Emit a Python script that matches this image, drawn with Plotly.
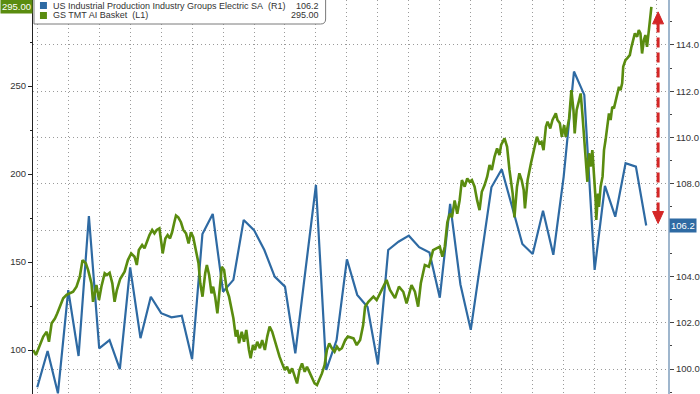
import plotly.graph_objects as go

# ---------------- data ----------------
# US Industrial Production Industry Groups Electric SA (R1), monthly, month index 0 = Jul 2019
blue_months = list(range(60))
blue_values = [99.21, 100.78, 98.95, 103.41, 100.56, 106.61, 100.89, 101.25, 99.99, 104.39,
               101.33, 103.12, 102.41, 102.23, 102.30, 100.42, 105.83, 106.70, 103.34, 103.85,
               106.44, 106.0, 105.14, 103.99, 103.56, 100.68, 104.32, 107.95, 99.96, 101.25,
               104.74, 103.20, 102.68, 100.20, 105.14, 105.50, 105.76, 105.26, 105.03, 103.08,
               107.13, 103.65, 101.69, 104.78, 107.85, 108.63, 107.02, 105.40, 104.97, 106.84,
               104.93, 108.3, 112.85, 111.84, 104.28, 107.91, 106.58, 108.89, 108.74, 106.2]

# GS TMT AI Basket (L1), time in months since Jul 2019
green_months = [-0.39, -0.13, 0.19, 0.58, 0.91, 1.13, 1.39, 1.71, 1.93, 2.19,
                2.51, 2.84, 3.15, 3.47, 3.80, 4.12, 4.38, 4.70, 4.92, 5.25,
                5.40, 5.73, 5.98, 6.21, 6.53, 6.75, 7.01, 7.27, 7.49, 7.71,
                8.04, 8.46, 8.78, 9.10, 9.42, 9.64, 9.84, 10.16, 10.39, 10.61,
                10.87, 11.13, 11.35, 11.57, 11.83, 12.05, 12.15, 12.41, 12.63, 12.86,
                13.06, 13.28, 13.44, 13.66, 13.92, 14.15, 14.41, 14.66, 14.89, 15.11,
                15.37, 15.62, 15.79, 16.01, 16.27, 16.43, 16.65, 16.88, 17.04, 17.23,
                17.45, 17.62, 17.88, 18.10, 18.36, 18.58, 18.84, 19.00, 19.23, 19.38,
                19.55, 19.81, 20.03, 20.25, 20.51, 20.67, 20.90, 21.09, 21.31, 21.57,
                21.79, 22.05, 22.28, 22.51, 22.76, 23.02, 23.24, 23.47, 23.72, 23.98,
                24.20, 24.44, 24.69, 24.95, 25.17, 25.40, 25.65, 25.91, 26.13, 26.36,
                26.61, 26.87, 27.10, 27.33, 27.58, 27.84, 28.06, 28.29, 28.54, 28.80,
                29.03, 29.26, 29.51, 29.84, 30.09,
                30.64, 30.95, 31.28, 31.57, 31.76, 32.08, 32.57, 32.88, 33.21, 33.53,
                33.84, 34.17, 34.66, 35.04, 35.46, 35.78, 36.26, 36.59, 36.90, 37.16,
                37.55, 37.94, 38.35, 38.67, 39.00, 39.25, 39.48, 39.73, 39.96, 40.18,
                40.44, 40.69, 40.92, 41.14, 41.41, 41.66, 41.89, 42.11, 42.37, 42.62,
                42.85, 43.07, 43.34, 43.59, 43.82, 44.04, 44.30, 44.55,
                44.78, 44.94, 45.27, 45.52, 45.75, 46.06, 46.23, 46.48, 46.71, 46.93,
                47.13, 47.25, 47.51, 47.83, 48.09, 48.41, 48.64, 48.86, 49.05, 49.28,
                49.44, 49.70, 49.92, 50.24, 50.40, 50.63, 50.82, 51.05, 51.20, 51.37,
                51.53, 51.75, 51.95, 52.07, 52.26, 52.50, 52.65, 52.81, 52.98, 53.13,
                53.30, 53.46, 53.61, 53.78, 53.94, 54.10, 54.16, 54.33, 54.42, 54.58,
                54.77, 54.91, 55.06, 55.23, 55.39, 55.55, 55.71, 55.87, 56.03, 56.19,
                56.36, 56.51, 56.67, 56.77, 56.99, 57.15, 57.41, 57.57, 57.73, 57.90,
                58.12, 58.28, 58.44, 58.60, 58.77, 58.92, 59.08, 59.25, 59.40, 59.50]
green_values = [100, 97.2, 101.9, 107.6, 110.4, 104.7, 115.2, 117.9, 120.8, 124.6,
                129.4, 131.3, 132.2, 133.1, 136, 141.7, 151.1, 149.3, 145.5, 137.9,
                127.4, 136.9, 128.4, 136, 143.6, 142.6, 143.9, 137.9, 127.4, 134.1,
                140.5, 144.5, 151.1, 154.9, 153, 148.3, 156.8, 159.7, 157.8, 161.5,
                165.3, 168.2, 166.3, 168.2, 169.1, 159.7, 154.9, 163.4, 165.3, 163.4,
                166.9, 172.6, 176.4, 175.4, 172.6, 168.2, 166.3, 160.6, 166.9, 164.1,
                156.8, 149.3, 137.9, 130.3, 143.6, 148.3, 142.6, 132.2, 136, 130.3,
                120.8, 132.2, 147.3, 145.5, 134.1, 130.3, 122.7, 118, 107.6, 111.4,
                103.8, 110.4, 104.7, 111.4, 100, 95.3, 102.8, 100, 104.7, 101,
                105.7, 100, 107.6, 113.3, 110.4, 104.7, 100, 96.2, 92.4, 88.6,
                90.5, 86.7, 89.6, 84.8, 81, 88.6, 92.4, 87.6, 90.5, 87.6,
                83.8, 81, 80.1, 82.9, 86.7, 91.5, 100, 103.8, 101, 99,
                101.9, 100, 101, 105.7, 107.6,
                106.6, 102.8, 105.7, 114, 124.6, 127.4, 130.3, 128.4, 132.2, 136,
                139.8, 134.1, 129.5, 136, 133.1, 126.5, 136.9, 133.1, 124.6, 137.9,
                148.3, 147.3, 156.8, 157.8, 158.7, 153, 158.7, 172.6, 177.4, 175.4,
                185, 177.4, 185, 196.6, 192.8, 197.5, 195.6, 196.6, 192.8, 185,
                179.5, 189.9, 193.7, 198.5, 205.1, 202.3, 209.8, 214.6,
                210.8, 216.5, 220.3, 215.5, 202.3, 188.9, 175.4, 192.8, 200.4, 196.6,
                190.9, 180.5, 196.6, 206.1, 213.6, 221.2, 217.4, 218.3, 213.6, 226.9,
                229.8, 225.9, 230.7, 234.5, 230.7, 228.8, 221.2, 227.8, 221.2, 226.9,
                231.6, 247.7, 236.4, 223.1, 236.4, 242, 245.8, 234.5, 219.3, 209.8,
                195.6, 211.8, 204.2, 213.6, 200.4, 185.2, 173.9, 188.9, 181.4, 192.8,
                198.5, 213.6, 219.3, 226.9, 234.5, 230.7, 238.2, 237.3, 241.1, 245.8,
                249.6, 247.7, 251.5, 261, 264.8, 265.7, 267.6, 272.3, 276.1, 279.9,
                278, 281.8, 279.9, 268.5, 276.1, 279, 272.3, 279.9, 289.4, 295]

blue_name = "US Industrial Production Industry Groups Electric SA"
green_name = "GS TMT AI Basket"
right_ticks = [100, 102, 104, 106, 108, 110, 112, 114, 116]
left_ticks = [100, 150, 200, 250]
assert len(green_months) == len(green_values)

# ---------------- layout constants ----------------
W, H = 700, 394
ML, MR = 33, 29
PW = W - ML - MR
X_RANGE = [-0.415, 61.11]
L_RANGE = [75.0, 298.9]
R_RANGE = [98.92, 115.94]

BLUE = "#2e6aa3"
GREEN = "#5a8c0f"
RED = "#d42626"
FONT = "Liberation Sans, Arial, sans-serif"
TXT = "#333333"


def fx(px):
    return (px - ML) / PW


def fy(py):
    return 1 - py / H


def left_to_paper(v):
    return (v - L_RANGE[0]) / (L_RANGE[1] - L_RANGE[0])


def right_to_paper(v):
    return (v - R_RANGE[0]) / (R_RANGE[1] - R_RANGE[0])


# the right-axis label hidden behind the last-value badge is left blank
right_text = ["" if abs(t - blue_values[-1]) < 0.5 else f"{t:.1f}" for t in right_ticks]

fig = go.Figure()
fig.add_trace(go.Scatter(x=blue_months, y=blue_values, yaxis="y", mode="lines",
                         line=dict(color=BLUE, width=2.2), name=blue_name))
fig.add_trace(go.Scatter(x=green_months, y=green_values, yaxis="y2", mode="lines",
                         line=dict(color=GREEN, width=2.6), name=green_name))

GRID = dict(showgrid=True, gridcolor="#9a9a9a", gridwidth=1, griddash="1px,3px")

fig.update_layout(
    width=W, height=H, autosize=False,
    margin=dict(l=ML, r=MR, t=0, b=0, pad=0),
    paper_bgcolor="white", plot_bgcolor="white",
    showlegend=False,
    font=dict(family=FONT, size=9.5, color=TXT),
    xaxis=dict(range=X_RANGE, tick0=0, dtick=3, showticklabels=False, ticks="",
               zeroline=False, showline=False, **GRID),
    yaxis=dict(side="right", range=R_RANGE, tickvals=right_ticks, ticktext=right_text,
               zeroline=False, showline=True, linecolor="#9fb6cd", linewidth=2,
               ticks="outside", ticklen=4, tickcolor="#444", tickwidth=1,
               minor=dict(dtick=1, ticks="outside", ticklen=2, tickcolor="#444", showgrid=False),
               tickfont=dict(size=9.5, color=TXT), **GRID),
    yaxis2=dict(side="left", overlaying="y", range=L_RANGE, tickvals=left_ticks,
                showgrid=False, zeroline=False, showline=True, linecolor="#222", linewidth=1,
                ticks="outside", ticklen=4, tickcolor="#222", tickwidth=1,
                minor=dict(tick0=0, dtick=25, ticks="outside", ticklen=2, tickcolor="#222", showgrid=False),
                tickfont=dict(size=9.5, color=TXT)),
)

shapes = []
annotations = []

# custom legend box
x0, x1, ytop, ybot = fx(34), fx(327), fy(-1), fy(24)
shapes.append(dict(type="path", xref="paper", yref="paper",
                   path=f"M {x0},{ytop} L {x1},{ytop} L {x1},{fy(19)} Q {x1},{ybot} {fx(322)},{ybot} L {x0},{ybot} Z",
                   fillcolor="white", line=dict(color="#7a7a7a", width=1), layer="above"))
for (py0, py1, col) in [(2, 9, BLUE), (12, 19, GREEN)]:
    shapes.append(dict(type="rect", xref="paper", yref="paper", x0=fx(40), x1=fx(47),
                       y0=fy(py1), y1=fy(py0), fillcolor=col, line=dict(width=0), layer="above"))
legend_rows = [(5.5, blue_name + "\u00a0\u00a0(R1)", f"{blue_values[-1]:.1f}"),
               (15.5, green_name + "\u00a0\u00a0(L1)", f"{green_values[-1]:.2f}")]
for py, label, val in legend_rows:
    annotations.append(dict(xref="paper", yref="paper", x=fx(51), y=fy(py), xanchor="left",
                            yanchor="middle", text=label, showarrow=False,
                            font=dict(family=FONT, size=9, color=TXT)))
    annotations.append(dict(xref="paper", yref="paper", x=fx(322), y=fy(py), xanchor="right",
                            yanchor="middle", text=val, showarrow=False,
                            font=dict(family=FONT, size=9, color=TXT)))

# last-value badges
annotations.append(dict(xref="paper", yref="paper", x=fx(0), y=left_to_paper(green_values[-1]),
                        xanchor="left", yanchor="middle", text=f"{green_values[-1]:.2f}",
                        showarrow=False, bgcolor=GREEN, borderpad=1,
                        font=dict(family=FONT, size=9.5, color="white")))
annotations.append(dict(xref="paper", yref="paper", x=fx(672), y=right_to_paper(blue_values[-1]),
                        xanchor="left", yanchor="middle", text=f"{blue_values[-1]:.1f}",
                        showarrow=False, bgcolor=BLUE, borderpad=1,
                        font=dict(family=FONT, size=9.5, color="white")))

# red dashed double arrow between the two latest values
ax = blue_months[-1] + 1.15
hw = 0.53
head = 12 / H
top_tip = left_to_paper(green_values[-1]) - 5 / H
bot_tip = right_to_paper(blue_values[-1]) + 2 / H
shapes.append(dict(type="line", xref="x", yref="paper", x0=ax, x1=ax,
                   y0=bot_tip + head - 1 / H, y1=top_tip - head + 1 / H,
                   line=dict(color=RED, width=3, dash="10px,5px"), layer="above"))
shapes.append(dict(type="path", xref="x", yref="paper",
                   path=f"M {ax-hw},{top_tip-head} L {ax+hw},{top_tip-head} L {ax},{top_tip} Z",
                   fillcolor=RED, line=dict(color=RED, width=1), layer="above"))
shapes.append(dict(type="path", xref="x", yref="paper",
                   path=f"M {ax-hw},{bot_tip+head} L {ax+hw},{bot_tip+head} L {ax},{bot_tip} Z",
                   fillcolor=RED, line=dict(color=RED, width=1), layer="above"))

fig.update_layout(shapes=shapes, annotations=annotations)
fig.write_html("out.html")
